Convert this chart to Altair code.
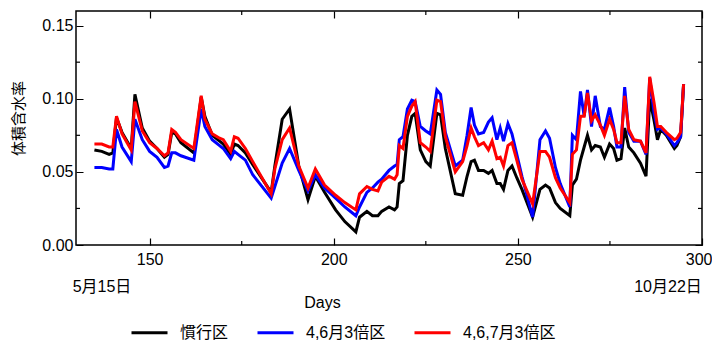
import altair as alt
import pandas as pd

days = [135, 137, 139, 140, 141, 142.5, 145, 146, 148, 150, 152, 154, 155, 156, 157, 158.5,
        162, 164, 165, 167, 169, 170, 172, 173, 174, 176, 178, 183, 184, 186, 188, 190.5,
        193, 195, 197.5, 200.5, 203, 206, 207, 209, 210.5, 212, 213, 215, 216.5, 217.2,
        217.8, 218.8, 220, 221.2, 222.1, 223.5, 225, 226.2, 228, 229, 230.3, 233, 235,
        236.2, 237.3, 238.2, 239.3, 240.7, 242, 243, 244.3, 245.2, 246.1, 247.3, 248.4,
        249.7, 251.1, 254, 256, 257.5, 258.6, 260.2, 261.5, 264.1, 264.8, 265.9, 267, 268,
        268.9, 270, 271, 272.4, 273.5, 274.9, 276, 276.9, 278, 279, 280.1, 281.5, 283.3,
        284.8, 285.8, 287, 287.9, 288.8, 290.3, 292.5, 293.2, 294.2, 295]

kanko = [0.065, 0.064, 0.062, 0.063, 0.087, 0.077, 0.066, 0.103, 0.080, 0.071, 0.066, 0.060,
         0.062, 0.077, 0.076, 0.070, 0.063, 0.101, 0.088, 0.075, 0.071, 0.069, 0.062, 0.069,
         0.068, 0.063, 0.055, 0.036, 0.054, 0.086, 0.093, 0.054, 0.031, 0.047, 0.036, 0.024,
         0.016, 0.009, 0.019, 0.023, 0.020, 0.020, 0.023, 0.026, 0.024, 0.026, 0.042, 0.044,
         0.075, 0.088, 0.090, 0.065, 0.057, 0.054, 0.090, 0.089, 0.066, 0.035, 0.034, 0.047,
         0.057, 0.058, 0.051, 0.051, 0.049, 0.051, 0.042, 0.042, 0.038, 0.051, 0.054, 0.046,
         0.038, 0.019, 0.038, 0.041, 0.039, 0.029, 0.025, 0.020, 0.041, 0.045, 0.058, 0.067,
         0.075, 0.065, 0.068, 0.067, 0.060, 0.069, 0.066, 0.058, 0.059, 0.080, 0.067, 0.063,
         0.056, 0.047, 0.100, 0.085, 0.072, 0.079, 0.075, 0.066, 0.068, 0.074, 0.110]

x46 = [0.053, 0.053, 0.052, 0.052, 0.079, 0.067, 0.057, 0.086, 0.072, 0.064, 0.060, 0.053,
       0.054, 0.063, 0.063, 0.061, 0.058, 0.093, 0.081, 0.072, 0.068, 0.066, 0.059, 0.064,
       0.062, 0.058, 0.048, 0.032, 0.040, 0.056, 0.066, 0.051, 0.037, 0.048, 0.039, 0.032,
       0.026, 0.020, 0.026, 0.036, 0.039, 0.043, 0.045, 0.051, 0.054, 0.055, 0.072, 0.074,
       0.093, 0.099, 0.098, 0.081, 0.078, 0.076, 0.106, 0.103, 0.077, 0.054, 0.058, 0.075,
       0.094, 0.082, 0.076, 0.077, 0.084, 0.087, 0.072, 0.080, 0.071, 0.083, 0.076, 0.062,
       0.047, 0.019, 0.072, 0.078, 0.073, 0.053, 0.042, 0.026, 0.075, 0.072, 0.105, 0.088,
       0.106, 0.081, 0.102, 0.081, 0.079, 0.094, 0.081, 0.067, 0.067, 0.108, 0.077, 0.071,
       0.071, 0.062, 0.114, 0.090, 0.079, 0.080, 0.076, 0.068, 0.070, 0.074, 0.110]

x467 = [0.069, 0.069, 0.067, 0.067, 0.088, 0.076, 0.065, 0.098, 0.078, 0.070, 0.066, 0.061,
        0.063, 0.079, 0.077, 0.072, 0.066, 0.102, 0.086, 0.076, 0.073, 0.072, 0.064, 0.074,
        0.073, 0.066, 0.057, 0.035, 0.052, 0.072, 0.080, 0.054, 0.039, 0.052, 0.041, 0.034,
        0.029, 0.024, 0.035, 0.040, 0.038, 0.037, 0.043, 0.047, 0.045, 0.048, 0.068, 0.066,
        0.088, 0.095, 0.098, 0.070, 0.067, 0.064, 0.099, 0.098, 0.074, 0.050, 0.057, 0.068,
        0.080, 0.074, 0.068, 0.070, 0.065, 0.071, 0.059, 0.060, 0.054, 0.068, 0.070, 0.058,
        0.045, 0.028, 0.064, 0.064, 0.060, 0.046, 0.039, 0.029, 0.062, 0.065, 0.088, 0.088,
        0.104, 0.085, 0.089, 0.082, 0.075, 0.086, 0.079, 0.070, 0.070, 0.102, 0.079, 0.072,
        0.071, 0.063, 0.115, 0.097, 0.081, 0.081, 0.077, 0.072, 0.073, 0.077, 0.110]

series_names = ["慣行区", "4,6月3倍区", "4,6,7月3倍区"]
series_colors = ["#000000", "#0000ff", "#ff0000"]

x_major = [150, 200, 250, 300]
x_minor = [175, 225, 275]
y_major = [0.0, 0.05, 0.10, 0.15]
y_minor = [0.025, 0.075, 0.125]
date_labels = ["5月15日", "10月22日"]

rows = []
for name, vals in zip(series_names, [kanko, x46, x467]):
    for d, v in zip(days, vals):
        rows.append({"day": d, "value": v, "series": name})
df = pd.DataFrame(rows)

W, H = 626, 234
FONT = "Liberation Sans, Arial, Noto Sans CJK JP, sans-serif"
FS = 16

x_scale = alt.Scale(domain=[130, 300], nice=False, zero=False)
y_scale = alt.Scale(domain=[0, 0.16], nice=False, zero=False)
color_scale = alt.Scale(domain=series_names, range=series_colors)

x_axis = alt.Axis(values=x_major, format="d", grid=True, gridDash=[7, 220, 7, 0],
                  gridColor="black", gridWidth=1.2, gridOpacity=1, ticks=False,
                  domain=False, labelPadding=6, labelFontSize=FS, labelFont=FONT,
                  labelColor="black", labelFlush=True, labelFlushOffset=10,
                  labelOverlap=False,
                  title="Days", titleFont=FONT, titleFontSize=FS, titleFontWeight="normal",
                  titleColor="black", titleX=246, titleY=57, titleAlign="center",
                  titleBaseline="middle")
y_axis = alt.Axis(values=y_major, format=".2f", grid=True, gridDash=[7, 612, 7, 0],
                  gridColor="black", gridWidth=1.2, gridOpacity=1, ticks=False,
                  domain=False, labelPadding=3, labelFontSize=FS, labelFont=FONT,
                  labelColor="black", labelFlush=False, labelOverlap=False,
                  title="体積含水率", titleFont=FONT, titleFontSize=15,
                  titleFontWeight="normal", titleColor="black", titleX=-58, titleY=107,
                  titleAngle=270, titleAlign="center", titleBaseline="middle")

legend = alt.Legend(orient="none", legendX=54, legendY=302, direction="horizontal",
                    title=None, symbolType="stroke", symbolSize=1296, symbolStrokeWidth=3,
                    labelFontSize=FS, labelFont=FONT, labelColor="black", columnPadding=22,
                    labelOffset=11, padding=0)

base = alt.Chart(df)
line_layers = []
for name in series_names:
    line_layers.append(
        base.transform_filter(alt.datum.series == name).mark_line(strokeWidth=3).encode(
            x=alt.X("day:Q", scale=x_scale, axis=x_axis),
            y=alt.Y("value:Q", scale=y_scale, axis=y_axis),
            color=alt.Color("series:N", scale=color_scale, legend=legend),
        )
    )

xm = pd.DataFrame({"t": x_minor})
ym = pd.DataFrame({"t": y_minor})
tick_style = dict(color="black", strokeWidth=1.2)
minor_layers = [
    alt.Chart(xm).mark_rule(**tick_style).encode(
        x=alt.X("t:Q", scale=x_scale, axis=x_axis), y=alt.value(H), y2=alt.value(H - 4)),
    alt.Chart(xm).mark_rule(**tick_style).encode(
        x=alt.X("t:Q", scale=x_scale, axis=x_axis), y=alt.value(0), y2=alt.value(4)),
    alt.Chart(ym).mark_rule(**tick_style).encode(
        y=alt.Y("t:Q", scale=y_scale, axis=y_axis), x=alt.value(0), x2=alt.value(4)),
    alt.Chart(ym).mark_rule(**tick_style).encode(
        y=alt.Y("t:Q", scale=y_scale, axis=y_axis), x=alt.value(W), x2=alt.value(W - 4)),
]

date_left = alt.Chart(pd.DataFrame({"label": [date_labels[0]]})).mark_text(
    font=FONT, fontSize=FS, color="black", align="center", baseline="middle").encode(
    text="label:N", x=alt.value(26), y=alt.value(276))
date_right = alt.Chart(pd.DataFrame({"label": [date_labels[1]]})).mark_text(
    font=FONT, fontSize=FS, color="black", align="center", baseline="middle").encode(
    text="label:N", x=alt.value(592), y=alt.value(276))

chart = alt.layer(*line_layers, *minor_layers, date_left, date_right).properties(
    width=W, height=H,
    padding={"left": 68, "top": 3, "right": 10, "bottom": 95},
    autosize=alt.AutoSizeParams(type="none"),
    background="white",
).configure_view(stroke="black", strokeWidth=1.5)

chart.save("out.html", embed_options={"renderer": "svg", "actions": False})
